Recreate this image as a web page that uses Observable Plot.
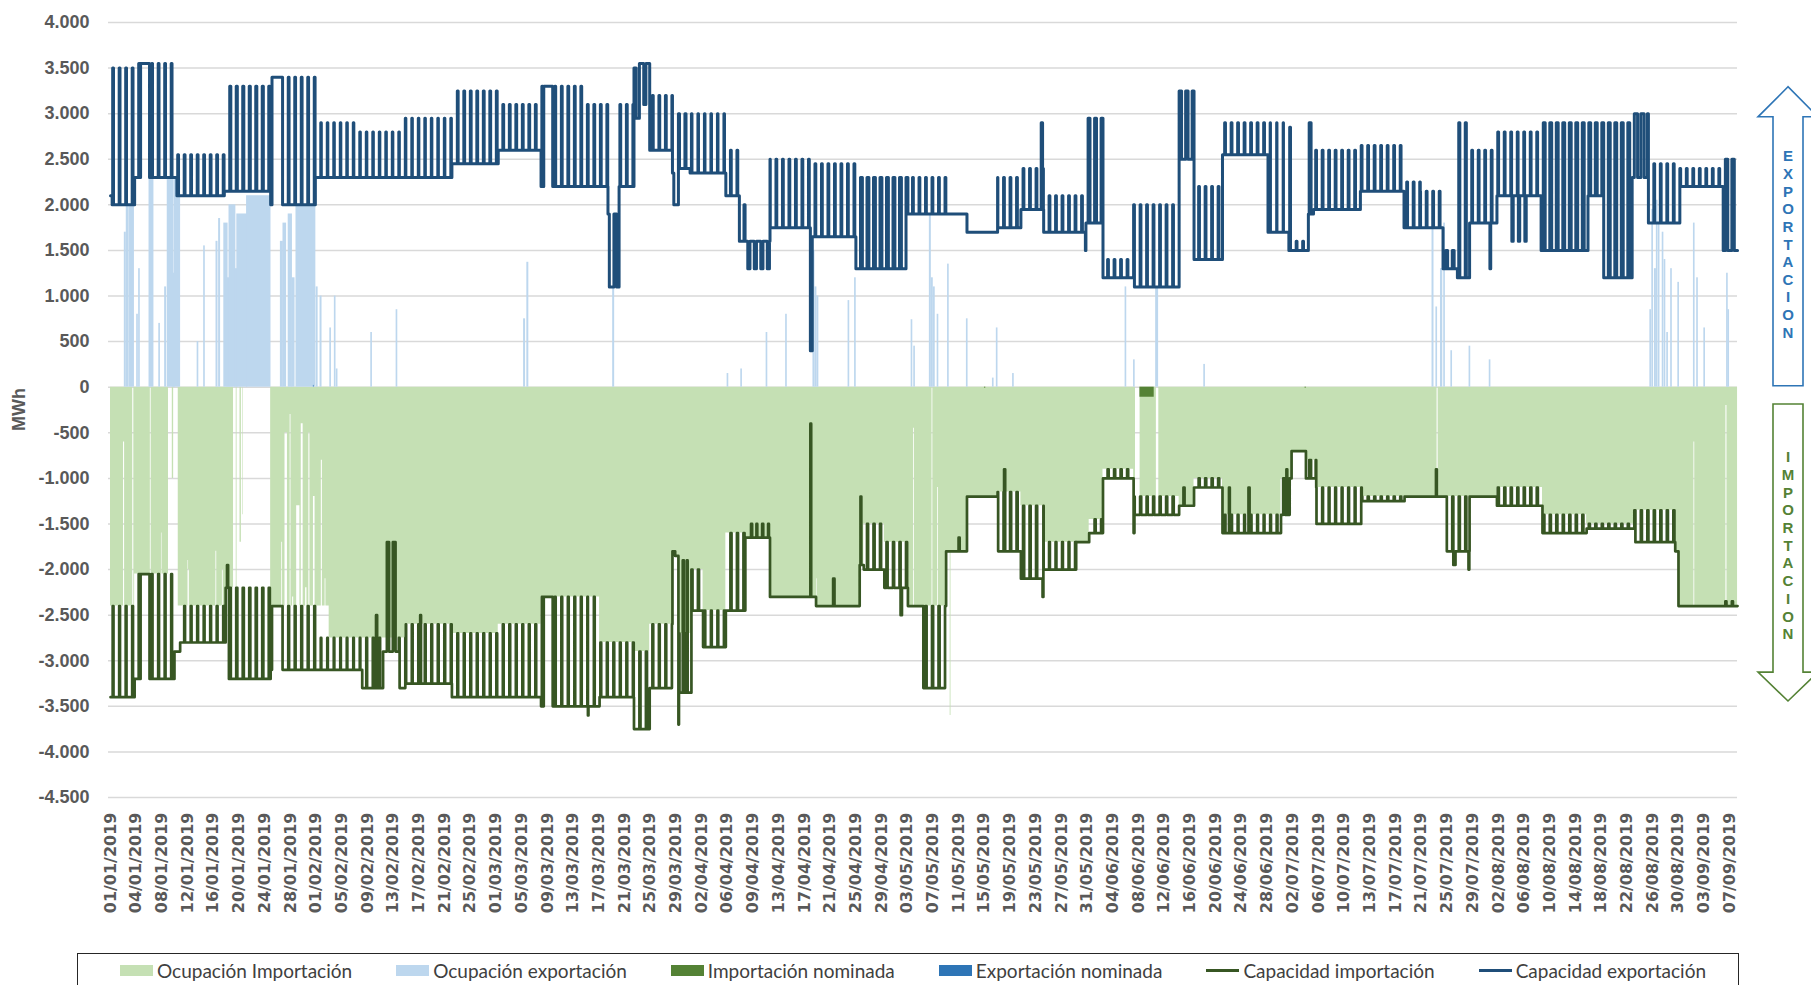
<!DOCTYPE html>
<html><head><meta charset="utf-8">
<script src="https://cdn.jsdelivr.net/npm/d3@7"></script>
<script src="https://cdn.jsdelivr.net/npm/@observablehq/plot@0.6"></script>
<style>
html,body{margin:0;padding:0;background:#fff;overflow:hidden;width:1811px;height:985px}
#chart{position:absolute;left:0;top:0}
#legend{position:absolute;left:77px;top:953px;width:1662px;height:60px;border:1.5px solid #262626;box-sizing:border-box;display:flex;align-items:flex-start;padding-left:42px;padding-top:5px;gap:44px;font-family:"Lato","Liberation Sans",sans-serif;font-size:19px;line-height:23px;color:#404040}
.item{display:flex;align-items:center;white-space:nowrap;height:23px}
.sw{width:33px;height:11px;margin-right:4px}
.ln{width:33px;height:3px;margin-right:4px}
</style></head><body>
<div id="chart"></div><div id="legend"></div>
<script>
// ---------- DATA (day 0 = 01/01/2019 00:00) ----------
const xLabels = ["01/01/2019","04/01/2019","08/01/2019","12/01/2019","16/01/2019","20/01/2019","24/01/2019","28/01/2019","01/02/2019","05/02/2019","09/02/2019","13/02/2019","17/02/2019","21/02/2019","25/02/2019","01/03/2019","05/03/2019","09/03/2019","13/03/2019","17/03/2019","21/03/2019","25/03/2019","29/03/2019","02/04/2019","06/04/2019","09/04/2019","13/04/2019","17/04/2019","21/04/2019","25/04/2019","29/04/2019","03/05/2019","07/05/2019","11/05/2019","15/05/2019","19/05/2019","23/05/2019","27/05/2019","31/05/2019","04/06/2019","08/06/2019","12/06/2019","16/06/2019","20/06/2019","24/06/2019","28/06/2019","02/07/2019","06/07/2019","10/07/2019","13/07/2019","17/07/2019","21/07/2019","25/07/2019","29/07/2019","02/08/2019","06/08/2019","10/08/2019","14/08/2019","18/08/2019","22/08/2019","26/08/2019","30/08/2019","03/09/2019","07/09/2019"];
const lastLabelDay = 249;
const yTicks = [4000,3500,3000,2500,2000,1500,1000,500,0,-500,-1000,-1500,-2000,-2500,-3000,-3500,-4000,-4500];

// Capacidad exportación: [fromDay, toDay, daily high, daily low, share of day at high]
const exportCapSegs = [
[0,3.7,3500,2000,0.12],[3.7,10.2,3550,2300,0.15],[10.2,17.5,2550,2100,0.12],[17.5,24.6,3300,2150,0.2],
[24.6,31.5,3400,2000,0.15],[31.5,38.3,2900,2300,0.1],[38.3,45.3,2800,2300,0.1],[45.3,52.5,2950,2300,0.1],
[52.5,59.6,3250,2450,0.12],[59.6,66.2,3100,2600,0.12],[66.2,73.1,3300,2200,0.12],[73.1,76.5,3100,2200,0.12],
[76.5,76.7,1900,1900],[76.7,78.2,1100,1100],[78.2,80.5,3100,2200,0.15],[80.5,81.3,3500,2950,0.5],
[81.3,82.9,3550,3100,0.7],[82.9,86.4,3200,2600,0.15],[86.4,87.3,2350,2000,0.3],[87.3,89.1,3000,2400,0.2],
[89.1,94.6,3000,2350,0.1],[94.6,96.7,2600,2100,0.15],[96.7,97.6,1600,1600],[97.6,101.4,1600,1300,0.85],
[101.4,107.6,2500,1750,0.15],[107.6,107.9,400,400],[107.9,114.6,2450,1650,0.15],[114.6,122.6,2300,1300,0.3],
[122.6,128.5,2300,1900,0.15],[128.5,131.7,1900,1900],[131.7,136.4,1700,1700],[136.4,140,2300,1750,0.15],
[140,143.5,2400,1950,0.15],[143.5,150,2100,1700,0.15],[150,152.6,2950,1800,0.3],[152.6,157.3,1400,1200,0.15],
[157.3,164.3,2000,1100,0.15],[164.3,166.6,3250,2500,0.4],[166.6,171,2200,1400,0.15],[171,178,2900,2550,0.12],
[178,181.2,2900,1700,0.06],[181.2,184.2,1600,1500,0.15],[184.2,185,2900,1900,0.3],[185,192.2,2600,1950,0.12],
[192.2,198.9,2650,2150,0.12],[198.9,201.4,2250,1750,0.15],[201.4,204.9,2150,1750,0.15],[204.9,207.1,1500,1300,0.3],
[207.1,209,2900,1200,0.2],[209,213.2,2600,1800,0.15],[213.2,220,2800,2100,0.15],[220,227.2,2900,1500,0.3],
[227.2,229.5,2900,2100,0.3],[229.5,234,2900,1200,0.3],[234,236.5,3000,2300,0.5],[236.5,241.3,2450,1800,0.15],
[241.3,248,2400,2200,0.12],[248,250.3,2500,1500,0.4]];
// single events overriding the pattern: [fromDay, toDay, value]
const exportCapEvents = [[0,0.25,2100],[4.6,6.0,3550],[24.8,26.3,3400],[66.6,68.0,3300],[77.4,77.8,1900],
[97.4,97.55,2000],[143.1,143.3,2900],[149.9,150.0,1500],[181.3,181.45,2850],[215.5,215.7,1600],[216.5,216.7,1600],[217.5,217.7,1600],[212.1,212.25,1300]];

// Capacidad importación: [fromDay, toDay, daily high (less negative), daily low, share of day at high]
const importCapSegs = [
[0,3.7,-2400,-3400,0.12],[3.7,9.8,-2050,-3200,0.15],[9.8,10.7,-2900,-2900],[10.7,17.7,-2400,-2800,0.12],
[17.7,18.4,-2200,-2200],[18.4,24.6,-2200,-3200,0.2],[24.6,31.6,-2400,-3100,0.15],[31.6,38.7,-2750,-3100,0.1],
[38.7,41.9,-2750,-3300,0.15],[41.9,44.3,-2900,-2900],[44.3,45.4,-2750,-3300,0.15],[45.4,52.5,-2600,-3250,0.15],
[52.5,59.6,-2700,-3400,0.12],[59.6,66.2,-2600,-3400,0.12],[66.2,75.2,-2300,-3500,0.12],[75.2,80.5,-2800,-3400,0.15],
[80.5,82.9,-2900,-3750,0.2],[82.9,86.4,-2600,-3300,0.15],[86.4,87.3,-1800,-1850,0.5],[87.3,89.3,-2700,-3350,0.2],
[89.3,91.1,-2000,-2450,0.2],[91.1,94.6,-2450,-2850,0.15],[94.6,97.6,-1600,-2450,0.2],[97.6,101.4,-1650,-1650],
[101.4,108.5,-2300,-2300],[108.5,115.2,-2400,-2400],[115.2,115.8,-1950,-1950],[115.8,119,-1500,-2000,0.2],
[119,122.6,-1700,-2200,0.2],[122.6,125,-2400,-2400],[125,128.5,-2400,-3300,0.2],[128.5,131.7,-1800,-1800],
[131.7,136.4,-1200,-1200],[136.4,140,-1150,-1800,0.2],[140,143.5,-1300,-2100,0.2],[143.5,148.5,-1700,-2000,0.15],
[148.5,150.5,-1700,-1700],[150.5,152.6,-1450,-1600,0.2],[152.6,157.3,-900,-1000,0.2],[157.3,164.3,-1200,-1400,0.2],
[164.3,166.6,-1300,-1300],[166.6,171,-1000,-1100,0.2],[171,180,-1400,-1600,0.15],[180,181.6,-1000,-1400,0.3],
[181.6,183.8,-700,-700],[183.8,185.4,-800,-1000,0.3],[185.4,192.4,-1100,-1500,0.15],[192.4,199,-1200,-1250,0.2],
[199,205.5,-1200,-1200],[205.5,209,-1200,-1800,0.2],[209,213.2,-1200,-1200],[213.2,220.2,-1100,-1300,0.2],
[220.2,227,-1400,-1600,0.2],[227,234.3,-1500,-1550,0.2],[234.3,240.6,-1350,-1700,0.2],[240.6,241.1,-1800,-1800],
[241.1,248.3,-2400,-2400],[248.3,250.3,-2350,-2400,0.2]];
const importCapEvents = [[4.6,6.0,-2050],[17.9,18.05,-1950],[18.2,18.3,-3200],[24.8,26.3,-2400],[40.8,41.0,-2500],
[42.5,42.8,-1700],[43.4,43.8,-1700],[47.6,47.75,-2500],[66.6,68.0,-2300],[73.4,73.5,-3600],[87.3,87.4,-3700],
[88.0,88.15,-1900],[88.6,88.75,-1900],[98.5,98.65,-1500],[99.3,99.45,-1500],[100.2,100.35,-1500],[101.1,101.25,-1500],
[107.6,107.75,-400],[111.1,111.3,-2100],[115.3,115.45,-1200],[121.5,121.7,-2500],[130.4,130.55,-1650],[137.4,137.55,-900],
[143.3,143.45,-2300],[157.3,157.45,-1600],[165.0,165.15,-1100],[172,172.1,-1100],[175,175.15,-1100],[180.8,180.95,-900],
[203.8,203.95,-900],[206.5,206.8,-1950],[208.8,208.95,-2000]];

// Ocupación importación: [fromDay, toDay, value]
const importOccSegs = [
[0,3.7,-2400],[3.7,8.9,-2050],[8.9,10.4,0],[10.4,17.7,-2400],[17.7,18.9,-2200],[18.9,24.6,0],[24.6,33.6,-2400],
[33.6,38.7,-2750],[38.7,45.4,-2750],[45.4,52.5,-2600],[52.5,59.6,-2700],[59.6,66.2,-2600],[66.2,75.2,-2300],
[75.2,80.5,-2800],[80.5,82.9,-2900],[82.9,86.4,-2600],[86.4,87.3,-1850],[87.3,89.3,-2700],[89.3,91.1,-2000],
[91.1,94.6,-2450],[94.6,97.6,-1600],[97.6,101.4,-1650],[101.4,108.5,-2300],[108.5,115.2,-2400],[115.2,115.8,-1950],
[115.8,119,-1500],[119,122.6,-1700],[122.6,128.5,-2400],[128.5,131.7,-1800],[131.7,136.4,-1200],[136.4,140,-1150],
[140,143.5,-1300],[143.5,150.5,-1700],[150.5,152.6,-1450],[152.6,157.3,-900],[157.3,164.3,-1200],[164.3,166.6,-1300],
[166.6,171,-1000],[171,180,-1400],[180,181.6,-1000],[181.6,183.8,-700],[183.8,185.4,-800],[185.4,192.4,-1100],
[192.4,213.2,-1200],[213.2,220.2,-1100],[220.2,227,-1400],[227,234.3,-1500],[234.3,240.6,-1350],[240.6,241.1,-1800],
[241.1,250.3,-2400]];
// hours where import occupation dropped (or peaked): [fromDay, toDay, value]
const importOccEvents = [[2.0,2.15,-600],[3.4,3.55,0],[6.1,6.25,0],[7.8,7.9,-1600],[9.5,9.7,-1000],[11.9,12.0,-1900],
[12.0,12.1,-2000],[16.2,16.3,-1800],[17.2,17.3,-2000],[19.3,19.45,-2300],[19.9,20.1,-1700],[20.3,20.4,-1400],
[26.3,26.45,-1700],[26.8,27.2,-500],[27.6,27.75,-300],[28.0,28.15,-2300],[28.6,29.1,-1300],[29.3,29.6,-400],
[30.0,30.2,-2200],[30.5,30.65,-500],[31.2,31.45,-1200],[32.4,32.55,-800],[33.0,33.1,-2100],
[108.6,108.7,-2100],[123.5,123.6,-450],[126.3,126.45,0],[127.2,127.3,-1100],[129.1,129.25,-3600],
[157.6,158.3,0],[160.8,161.2,0],[204.0,204.15,0],[243.5,243.6,-600],[248.4,248.55,-200]];

// Ocupación exportación: [fromDay, toDay, value]
const exportOcc = [[2.2,2.35,1700],[2.5,2.8,2000],[3.0,3.6,2000],[4.1,4.2,800],[4.4,4.5,1300],[6.0,6.6,2300],[7.5,7.6,700],
[8.4,8.55,1100],[8.8,9.7,2300],[9.7,9.85,1250],[9.9,10.7,2300],[13.4,13.5,500],[14.4,14.5,1550],[16.3,16.45,1600],
[16.7,16.85,1850],[17.5,18.0,1800],[18.0,18.3,1200],[18.3,19.2,2000],[19.2,19.5,1300],[19.5,21.0,1900],[21.0,24.6,2100],
[26.2,26.5,1600],[26.6,27.0,1800],[27.4,27.9,1900],[28.0,28.3,1200],[28.6,31.5,2000],[31.7,31.85,1100],[32.3,32.45,1000],
[33.8,33.9,650],[34.5,34.6,1000],[34.8,34.9,200],[40.1,40.2,600],[44.0,44.1,850],[63.6,63.75,750],[64.1,64.25,1370],
[77.3,77.45,1100],[94.9,95.0,150],[97.0,97.1,200],[100.9,101.0,600],[103.9,104.0,800],[108.1,108.25,1500],[108.4,108.55,1100],
[108.7,108.85,1000],[113.5,113.6,950],[114.5,114.6,1200],[123.2,123.3,740],[123.6,123.7,450],[126.0,126.15,1900],
[126.3,126.45,1200],[126.6,126.75,1100],[127.2,127.3,800],[128.8,128.9,1350],[131.7,131.8,750],[135.7,135.8,100],
[136.3,136.4,650],[138.8,138.9,150],[156.1,156.2,1100],[157.4,157.5,300],[160.8,161.1,1100],[168.2,168.3,250],
[203.3,203.45,1750],[203.9,204.0,880],[204.6,204.8,1300],[205.1,205.2,1800],[206.2,206.3,400],[209.0,209.1,450],
[212.1,212.2,300],[236.8,236.9,850],[237.1,237.2,1950],[237.5,237.65,1300],[237.8,237.9,2050],[238.1,238.2,1800],
[238.7,238.8,1700],[239.0,239.1,1400],[239.4,239.5,600],[240.0,240.1,1300],[241.1,241.2,1150],[243.5,243.6,1800],
[244.0,244.1,1200],[245.1,245.2,650],[248.6,248.7,1250],[248.8,248.9,850]];

// Importación nominada / Exportación nominada: [fromDay, toDay, value]
const importNom = [[158.3,160.5,-110],[134.4,134.6,-10],[183.7,183.9,-10]];
const exportNom = [[31.2,31.3,20]];

// ---------- BUILD ----------
const dayMin = -0.31, dayMax = 250.2;
const hours = d3.range(Math.ceil(dayMax * 24) + 1).map(i => i / 24);
function findEvent(events, t) { for (const e of events) if (t >= e[0] && t < e[1]) return e[2]; return undefined; }
function findSeg(segs, t) { return segs.find(s => t >= s[0] && t < s[1]) || segs[segs.length - 1]; }
function capacity(segs, events, t) {
  const ev = findEvent(events, t); if (ev !== undefined) return ev;
  const [, , hi, lo, share = 0] = findSeg(segs, t);
  const ph = t - Math.floor(t);
  return (ph >= 0.3 && ph < 0.3 + share) ? hi : lo;
}
function level(segs, events, t) {
  const ev = findEvent(events, t); if (ev !== undefined) return ev;
  return findSeg(segs, t)[2];
}
const expCap = hours.map(t => ({t, v: capacity(exportCapSegs, exportCapEvents, t)}));
const impCap = hours.map(t => ({t, v: capacity(importCapSegs, importCapEvents, t)}));
const impOcc = hours.map(t => ({t, v: level(importOccSegs, importOccEvents, t)}));
const toRect = a => a.map(([a0, a1, v]) => ({a0, a1, v}));

const tickPos = xLabels.map((_, i) => i * lastLabelDay / (xLabels.length - 1));
const labelAt = new Map(tickPos.map((p, i) => [p, xLabels[i]]));
const loc = d3.formatLocale({decimal: ",", thousands: ".", grouping: [3], currency: ["", ""], minus: "-"});
const fmtY = loc.format(",");

const C = {impOcc: "#c5e0b4", expOcc: "#bdd7ee", impNom: "#548235", expNom: "#2e75b6", impCap: "#375623", expCap: "#1f4e79", grid: "#d9d9d9", text: "#595959"};

const chart = Plot.plot({
  width: 1811, height: 950,
  marginLeft: 108, marginRight: 74, marginTop: 22, marginBottom: 153,
  style: {fontFamily: "'Liberation Sans', Arial, sans-serif", color: C.text, background: "#fff"},
  x: {domain: [dayMin, dayMax], axis: null},
  y: {domain: [-4500, 4000], axis: null},
  marks: [
    Plot.gridY(yTicks, {stroke: C.grid, strokeOpacity: 1, strokeWidth: 1.5}),
    Plot.areaY(impOcc, {x: "t", y: "v", curve: "step-after", fill: C.impOcc}),
    Plot.rectY(toRect(exportOcc), {x1: "a0", x2: "a1", y: "v", fill: C.expOcc, insetLeft: -0.5, insetRight: -0.5}),
    Plot.rectY(toRect(importNom), {x1: "a0", x2: "a1", y: "v", fill: C.impNom}),
    Plot.rectY(toRect(exportNom), {x1: "a0", x2: "a1", y: "v", fill: C.expNom}),
    Plot.line(impCap, {x: "t", y: "v", curve: "step-after", stroke: C.impCap, strokeWidth: 2.7}),
    Plot.line(expCap, {x: "t", y: "v", curve: "step-after", stroke: C.expCap, strokeWidth: 3}),
    Plot.axisY(yTicks, {tickSize: 0, tickPadding: 19, tickFormat: fmtY, fontSize: 18, fontWeight: "bold", fill: C.text, label: null}),
    Plot.axisX(tickPos, {tickSize: 0, tickPadding: 15, tickRotate: -90, tickFormat: d => labelAt.get(d), fontSize: 16, fontWeight: "bold", fill: C.text, label: null, fontFamily: "'DejaVu Sans', Verdana, sans-serif"})
  ]
});
document.getElementById("chart").append(chart);

// ---------- annotations (axis title, side arrows) ----------
const ys = chart.scale("y").apply;
const svg = d3.select(chart);
svg.append("text").attr("transform", `translate(19,${(ys(4000) + ys(-4500)) / 2}) rotate(-90)`)
  .attr("text-anchor", "middle").attr("dy", "0.35em").attr("font-size", 18).attr("font-weight", "bold")
  .attr("fill", C.text).attr("font-family", "'Liberation Sans', Arial, sans-serif").text("MWh");

const cx = 1788, hw = 30, sw = 15;
function arrow(yStart, yHead, yTip, color) {
  const pts = [[cx, yTip], [cx - hw, yHead], [cx - sw, yHead], [cx - sw, yStart], [cx + sw, yStart], [cx + sw, yHead], [cx + hw, yHead]];
  svg.append("polygon").attr("points", pts.map(p => p.join(",")).join(" "))
    .attr("fill", "#fff").attr("stroke", color).attr("stroke-width", 1.6).attr("stroke-linejoin", "miter");
}
arrow(ys(10), ys(2960), ys(3290), "#2e75b6");
arrow(ys(-190), ys(-3130), ys(-3447), "#548235");
function vword(word, yFirst, step, color) {
  [...word].forEach((ch, i) => svg.append("text").attr("x", cx).attr("y", yFirst + i * step).attr("dy", "0.35em")
    .attr("text-anchor", "middle").attr("font-size", 15).attr("font-weight", "bold")
    .attr("font-family", "'Liberation Sans', Arial, sans-serif").attr("fill", color).text(ch));
}
vword("EXPORTACION", 156, 17.65, "#2e75b6");
vword("IMPORTACION", 457, 17.7, "#548235");

// ---------- legend ----------
const legendItems = [
  {label: "Ocupación Importación", color: C.impOcc, kind: "sw"},
  {label: "Ocupación exportación", color: C.expOcc, kind: "sw"},
  {label: "Importación nominada", color: C.impNom, kind: "sw"},
  {label: "Exportación nominada", color: C.expNom, kind: "sw"},
  {label: "Capacidad importación", color: C.impCap, kind: "ln"},
  {label: "Capacidad exportación", color: C.expCap, kind: "ln"}
];
const lg = d3.select("#legend");
legendItems.forEach(d => {
  const it = lg.append("div").attr("class", "item");
  it.append("span").attr("class", d.kind).style("background", d.color);
  it.append("span").text(d.label);
});
</script></body></html>
